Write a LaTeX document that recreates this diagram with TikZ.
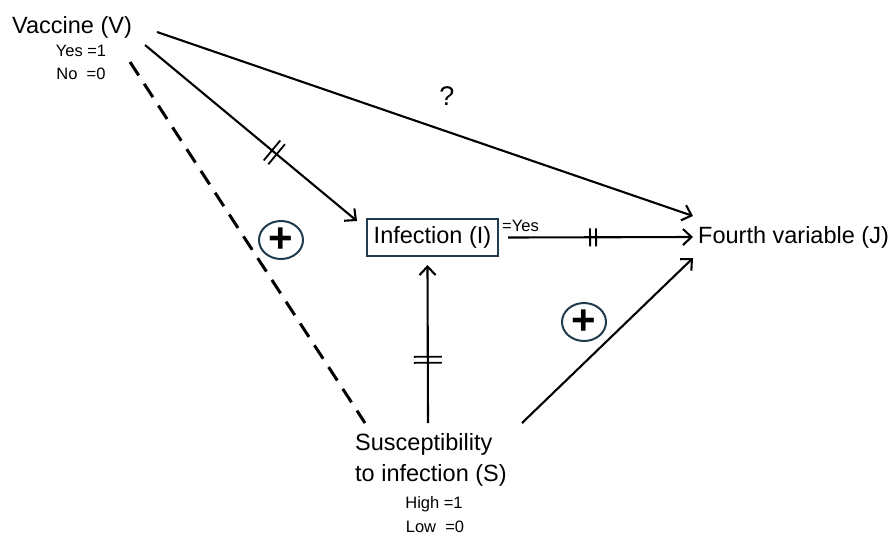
\documentclass[tikz,border=0pt]{standalone}
\usepackage{fontspec}
\setmainfont{Liberation Sans}
\usetikzlibrary{arrows.meta,calc,decorations.markings,shapes.geometric}
\definecolor{boxc}{HTML}{1F3B4D}
\begin{document}
\begin{tikzpicture}[x=1pt,y=-1pt,
  big/.style={font=\fontsize{23.5}{31}\selectfont, inner sep=0pt},
  small/.style={font=\fontsize{16.5}{19}\selectfont, inner sep=0pt},
  conn/.style={line width=2.1pt, -{Straight Barb[length=8.5pt,width=16pt,line width=2.1pt]}},
  dashedline/.style={line width=3pt, dash pattern=on 16pt off 10pt},
  plusnode/.style={ellipse, draw=boxc, line width=2pt, minimum width=44pt, minimum height=38pt, inner sep=0pt, font=\fontsize{42}{42}\selectfont\bfseries},
  boxnode/.style={rectangle, draw=boxc, line width=2pt, minimum width=131pt, minimum height=37pt, inner sep=0pt, font=\fontsize{23.5}{28}\selectfont},
  dtick/.style 2 args={postaction={decorate,decoration={markings,mark=at position #1 with {\draw[line width=1.8pt,-] (-3pt,-#2)--(-3pt,#2) (3pt,-#2)--(3pt,#2);}}}}
]
\useasboundingbox (0,0) rectangle (893,536);

% nodes
\node[big] (V) at (72,27) {Vaccine (V)};
\node[small] (Vy) at (81,51) {Yes =1};
\node[small] (Vn) at (81,73.5) {No\ \ =0};
\node[boxnode] (I) at (432.5,237.5) {Infection (I)};
\node[small, anchor=west] (Iy) at (502,226) {=Yes};
\node[big, anchor=west] (J) at (698,237) {Fourth variable (J)};
\node[big, align=left, anchor=north west] (S) at (355,433) {Susceptibility\\to infection (S)};
\node[small] (Sh) at (434,504) {High =1};
\node[small] (Sl) at (435,527) {Low\ \ =0};
\node[font=\fontsize{27}{30}\selectfont, inner sep=0pt] (Q) at (447,96) {?};
\node[plusnode] (P1) at (281,240) {+};
\node[plusnode] (P2) at (584,322) {+};

% connector end points
\coordinate (v1) at (157,32);
\coordinate (v2) at (145,45);
\coordinate (v3) at (130,62);
\coordinate (s1) at (365,423);
\coordinate (s2) at (428,423);
\coordinate (s3) at (522,423);

% connectors
\draw[conn] (v1) -- ($(J.west)+(-5,-21)$);
\draw[conn, dtick={0.61}{13pt}] (v2) -- ($(I.north west)+(-9,3)$);
\draw[dashedline] (v3) -- (s1);
\draw[conn, dtick={0.46}{9pt}] ($(I.east)+(9,0)$) -- ($(J.west)+(-5,0)$);
\draw[conn, dtick={0.40}{14pt}] (s2) -- ($(I.south)+(-5,8)$);
\draw[conn] (s3) -- ($(J.west)+(-5,21)$);
\end{tikzpicture}
\end{document}
